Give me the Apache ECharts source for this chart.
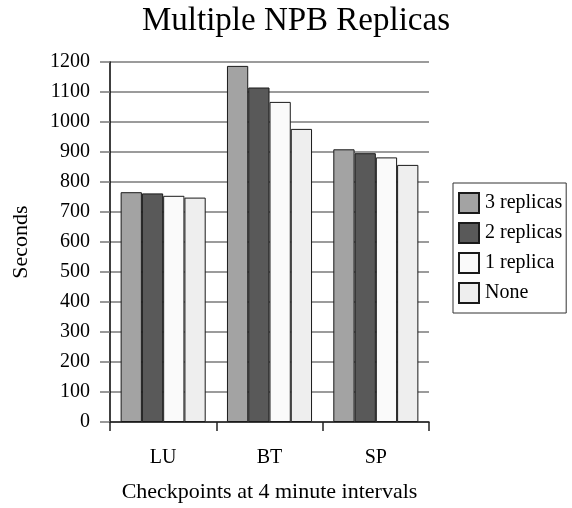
<!DOCTYPE html>
<html>
<head>
<meta charset="utf-8">
<script src="https://cdn.jsdelivr.net/npm/echarts@6/dist/echarts.min.js"></script>
<style>
  html, body { margin: 0; padding: 0; background: #fff; }
  #chart { width: 572px; height: 508px; }
</style>
</head>
<body>
<div id="chart"></div>
<script>
// Benchmarks (checkpoints every 4 minutes)
const categories = ['LU', 'BT', 'SP'];
const seriesNames = ['3 replicas', '2 replicas', '1 replica', 'None'];
const threeReplicas = [766, 1187, 909];
const twoReplicas = [762, 1115, 896];
const oneReplica = [754, 1067, 882];
const noReplica = [748, 977, 857];
const yTicks = [0, 100, 200, 300, 400, 500, 600, 700, 800, 900, 1000, 1100, 1200];

const seriesValues = [threeReplicas, twoReplicas, oneReplica, noReplica];
const fills = ['#a3a3a3', '#595959', '#fafafa', '#eeeeee'];
const serif = '"Liberation Serif", "Times New Roman", serif';

const chart = echarts.init(document.getElementById('chart'), null, { renderer: 'canvas' });

chart.setOption({
  animation: false,
  backgroundColor: '#ffffff',
  textStyle: { fontFamily: serif, color: '#000' },
  title: {
    text: 'Multiple NPB Replicas',
    left: 137,
    top: 0,
    textStyle: { fontFamily: serif, fontSize: 33, fontWeight: 'normal', color: '#000' }
  },
  legend: {
    orient: 'vertical',
    left: 453,
    top: 183,
    padding: [9, 4, 9, 5],
    itemWidth: 20,
    itemHeight: 20,
    itemGap: 8,
    borderColor: '#333',
    borderWidth: 1,
    borderRadius: 0,
    icon: 'rect',
    data: seriesNames,
    textStyle: { fontFamily: serif, fontSize: 20, color: '#000', padding: [0, 0, 0, 1] }
  },
  grid: { left: 110, right: 143, top: 62, bottom: 86, containLabel: false },
  xAxis: {
    type: 'category',
    data: categories,
    boundaryGap: true,
    name: 'Checkpoints at 4 minute intervals',
    nameLocation: 'middle',
    nameGap: 59,
    nameTextStyle: { fontFamily: serif, fontSize: 22, color: '#000' },
    axisLine: { lineStyle: { color: '#222', width: 1.5 } },
    axisTick: { show: true, length: 9, lineStyle: { color: '#222', width: 1.5 } },
    axisLabel: { fontFamily: serif, fontSize: 20, color: '#000', margin: 26 }
  },
  yAxis: {
    type: 'value',
    min: 0,
    max: yTicks[yTicks.length - 1],
    interval: 100,
    name: 'Seconds',
    nameLocation: 'middle',
    nameRotate: 90,
    nameGap: 78,
    nameTextStyle: { fontFamily: serif, fontSize: 22, color: '#000' },
    axisLine: { show: true, lineStyle: { color: '#000', width: 1.5 } },
    axisTick: { show: true, length: 10, lineStyle: { color: '#777', width: 1.5 } },
    axisLabel: { fontFamily: serif, fontSize: 20, color: '#000', margin: 20, formatter: v => String(v) },
    splitLine: { show: true, lineStyle: { color: '#7a7a7a', width: 1.5 } }
  },
  series: seriesNames.map((name, i) => ({
    name: name,
    type: 'bar',
    data: seriesValues[i],
    barGap: '0%',
    barCategoryGap: '20%',
    itemStyle: { color: fills[i], borderColor: '#1a1a1a', borderWidth: 1 }
  }))
});
</script>
</body>
</html>
